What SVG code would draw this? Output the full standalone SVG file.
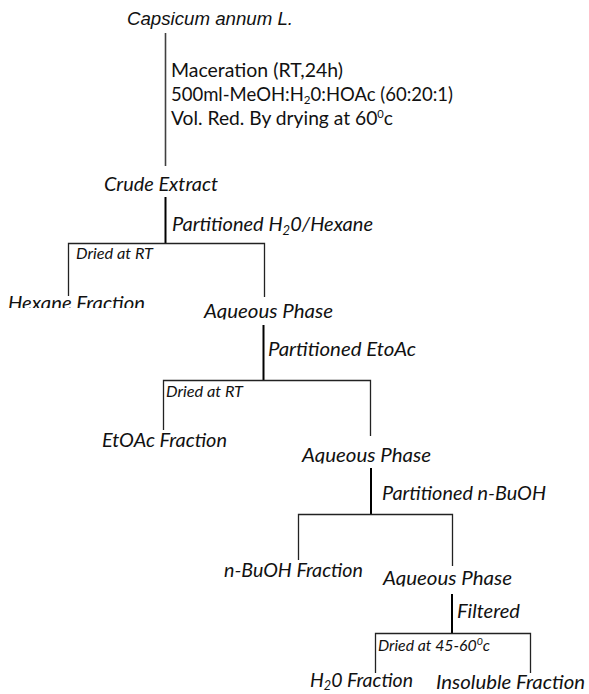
<svg xmlns="http://www.w3.org/2000/svg" width="589" height="694" viewBox="0 0 589 694">
  <style>
    .bg{fill:#ffffff}
    .t{font-family:"Lato","Carlito","Liberation Sans",sans-serif;font-style:italic;font-size:20px;fill:#111}
    .s{font-family:"Lato","Carlito","Liberation Sans",sans-serif;font-style:italic;font-size:15px;fill:#111}
    .r{font-family:"Lato","Carlito","Liberation Sans",sans-serif;font-size:19px;fill:#111}
    .title{font-family:"Liberation Sans",Arial,sans-serif;font-style:italic;font-size:18px;fill:#111}
    .trunk{stroke:#000;stroke-width:2;fill:none}
    .thin{stroke:#222;stroke-width:1.3;fill:none}
    .grey{stroke:#404040;stroke-width:1.6;fill:none}
  </style>
  <defs>
    <clipPath id="clipHex"><rect x="0" y="290" width="200" height="18"/></clipPath>
    <clipPath id="clipAq1"><rect x="190" y="300" width="160" height="19.5"/></clipPath>
    <clipPath id="clipAq2"><rect x="290" y="440" width="160" height="23.5"/></clipPath>
    <clipPath id="clipAq3"><rect x="370" y="565" width="160" height="21.5"/></clipPath>
  </defs>
  <rect class="bg" x="0" y="0" width="589" height="694"/>

  <g id="connectors">
    <line class="grey" x1="165.5" y1="33" x2="165.5" y2="166"/>
    <line class="trunk" x1="165.5" y1="197" x2="165.5" y2="244"/>
    <polyline class="thin" points="68.5,296 68.5,243.5 264.5,243.5 264.5,297"/>
    <line class="trunk" x1="263.5" y1="325" x2="263.5" y2="381"/>
    <polyline class="thin" points="163.5,430 163.5,380.5 370.5,380.5 370.5,436"/>
    <line class="trunk" x1="371" y1="468" x2="371" y2="515"/>
    <polyline class="thin" points="298.5,560 298.5,514.5 452.5,514.5 452.5,566"/>
    <line class="trunk" x1="452" y1="594" x2="452" y2="634"/>
    <polyline class="thin" points="375.5,673 375.5,633.5 530.5,633.5 530.5,673"/>
  </g>

  <g id="capsicum">
    <text class="title" x="127" y="25" textLength="166" lengthAdjust="spacingAndGlyphs">Capsicum annum L.</text>
  </g>
  <g id="maceration-label">
    <text class="r" x="171" y="77" textLength="172" lengthAdjust="spacingAndGlyphs">Maceration (RT,24h)</text>
    <text class="r" x="171" y="101" textLength="282" lengthAdjust="spacingAndGlyphs">500ml-MeOH:H<tspan font-size="12" dy="3">2</tspan><tspan dy="-3">0:HOAc (60:20:1)</tspan></text>
    <text class="r" x="171" y="125" textLength="222" lengthAdjust="spacingAndGlyphs">Vol. Red. By drying at 60<tspan font-size="11" dy="-7">0</tspan><tspan dy="7">c</tspan></text>
  </g>
  <g id="crude-extract">
    <text class="t" x="104" y="191" textLength="114" lengthAdjust="spacingAndGlyphs">Crude Extract</text>
  </g>
  <g id="label-hexane-partition">
    <text class="t" x="172" y="231" textLength="201" lengthAdjust="spacingAndGlyphs">Partitioned H<tspan font-size="13" dy="4">2</tspan><tspan dy="-4">0/Hexane</tspan></text>
  </g>
  <g id="label-dried-1">
    <text class="s" x="76" y="259" textLength="77" lengthAdjust="spacingAndGlyphs">Dried at RT</text>
  </g>
  <g id="hexane-fraction">
    <text class="t" x="8" y="310" textLength="137" lengthAdjust="spacingAndGlyphs" clip-path="url(#clipHex)">Hexane Fraction</text>
  </g>
  <g id="aqueous-phase-1">
    <text class="t" x="204" y="318" textLength="129" lengthAdjust="spacingAndGlyphs" clip-path="url(#clipAq1)">Aqueous Phase</text>
  </g>
  <g id="label-etoac-partition">
    <text class="t" x="268" y="356" textLength="148" lengthAdjust="spacingAndGlyphs">Partitioned EtoAc</text>
  </g>
  <g id="label-dried-2">
    <text class="s" x="166" y="397" textLength="77" lengthAdjust="spacingAndGlyphs">Dried at RT</text>
  </g>
  <g id="etoac-fraction">
    <text class="t" x="102" y="447" textLength="125" lengthAdjust="spacingAndGlyphs">EtOAc Fraction</text>
  </g>
  <g id="aqueous-phase-2">
    <text class="t" x="302" y="462" textLength="129" lengthAdjust="spacingAndGlyphs" clip-path="url(#clipAq2)">Aqueous Phase</text>
  </g>
  <g id="label-buoh-partition">
    <text class="t" x="382" y="500" textLength="164" lengthAdjust="spacingAndGlyphs">Partitioned n-BuOH</text>
  </g>
  <g id="buoh-fraction">
    <text class="t" x="224" y="577" textLength="139" lengthAdjust="spacingAndGlyphs">n-BuOH Fraction</text>
  </g>
  <g id="aqueous-phase-3">
    <text class="t" x="383" y="585" textLength="129" lengthAdjust="spacingAndGlyphs" clip-path="url(#clipAq3)">Aqueous Phase</text>
  </g>
  <g id="label-filtered">
    <text class="t" x="457" y="618" textLength="63" lengthAdjust="spacingAndGlyphs">Filtered</text>
  </g>
  <g id="label-dried-3">
    <text class="s" x="378" y="651" textLength="112" lengthAdjust="spacingAndGlyphs">Dried at 45-60<tspan font-size="10" dy="-6">0</tspan><tspan dy="6">c</tspan></text>
  </g>
  <g id="h2o-fraction">
    <text class="t" x="310" y="687" textLength="103" lengthAdjust="spacingAndGlyphs">H<tspan font-size="13" dy="3">2</tspan><tspan dy="-3">0 Fraction</tspan></text>
  </g>
  <g id="insoluble-fraction">
    <text class="t" x="436" y="689" textLength="149" lengthAdjust="spacingAndGlyphs">Insoluble Fraction</text>
  </g>
</svg>
